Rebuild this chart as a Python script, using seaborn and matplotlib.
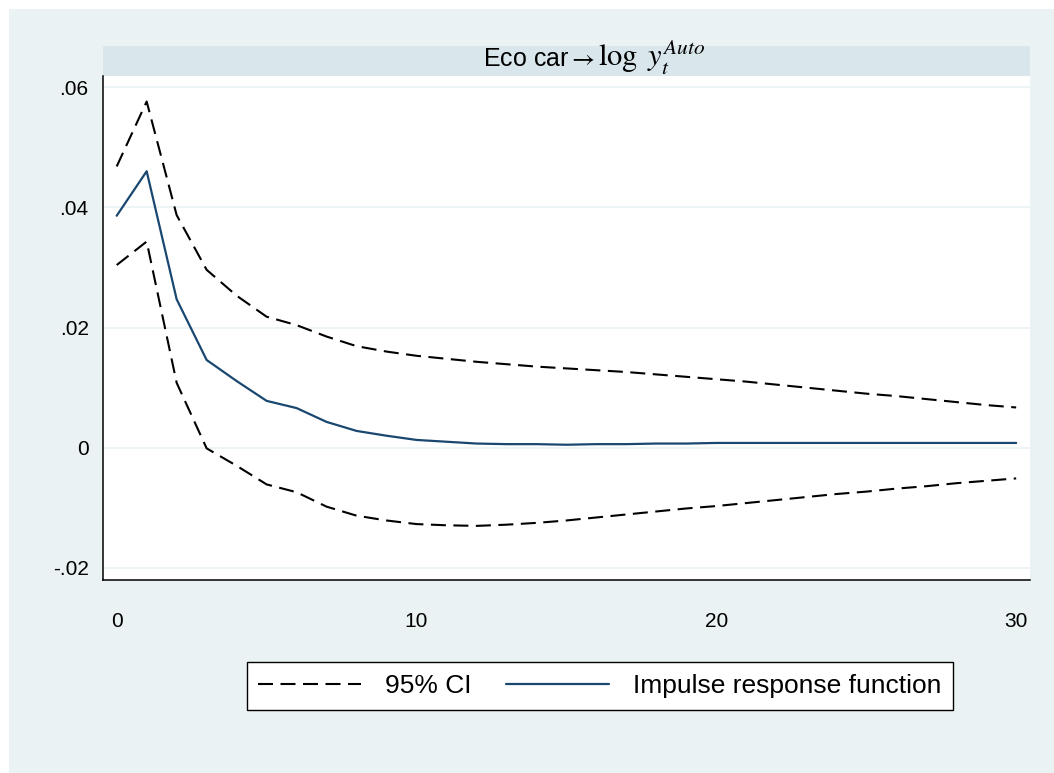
import numpy as np
import pandas as pd
import matplotlib
matplotlib.use("Agg")
import matplotlib.pyplot as plt
from matplotlib import font_manager
from matplotlib.patches import Rectangle
from matplotlib.lines import Line2D
import seaborn as sns

# veriler
steps = list(range(31))
irf = [0.0386, 0.0460, 0.0247, 0.0146, 0.0111, 0.0078, 0.0066, 0.0043, 0.0028, 0.0020,
       0.0013, 0.0010, 0.0007, 0.0006, 0.0006, 0.0005, 0.0006, 0.0006, 0.0007, 0.0007,
       0.0008, 0.0008, 0.0008, 0.0008, 0.0008, 0.0008, 0.0008, 0.0008, 0.0008, 0.0008, 0.0008]
upper = [0.0468, 0.0576, 0.0387, 0.0296, 0.0253, 0.0218, 0.0204, 0.0185, 0.0169, 0.0160,
         0.0153, 0.0148, 0.0143, 0.0139, 0.0135, 0.0132, 0.0129, 0.0126, 0.0122, 0.0118,
         0.0114, 0.0110, 0.0105, 0.0100, 0.0095, 0.0090, 0.0086, 0.0081, 0.0076, 0.0071, 0.0067]
lower = [0.0304, 0.0343, 0.0108, -0.0001, -0.0030, -0.0061, -0.0074, -0.0098, -0.0113, -0.0121,
         -0.0127, -0.0129, -0.0130, -0.0128, -0.0125, -0.0121, -0.0116, -0.0111, -0.0106, -0.0101,
         -0.0097, -0.0092, -0.0087, -0.0082, -0.0077, -0.0073, -0.0068, -0.0064, -0.0059, -0.0055, -0.0051]

yticks = [-0.02, 0.0, 0.02, 0.04, 0.06]
ytick_labels = ["-.02", "0", ".02", ".04", ".06"]
xticks = [0, 10, 20, 30]
legend_labels = ["95% CI", "Impulse response function"]

df = pd.DataFrame({"step": steps, "irf": irf, "upper": upper, "lower": lower})

bg = "#EAF2F3"
band = "#D9E6EB"
navy = "#1A476F"
dash = (7.2, 3.6)

sns.set_style("white")
names = {f.name for f in font_manager.fontManager.ttflist}
narrow = "Liberation Sans Narrow" if "Liberation Sans Narrow" in names else "Liberation Sans"
plt.rcParams["font.family"] = ["Liberation Sans", "DejaVu Sans"]
plt.rcParams["mathtext.fontset"] = "stix"
plt.rcParams["text.color"] = "black"
plt.rcParams["xtick.color"] = "black"
plt.rcParams["ytick.color"] = "black"

fig = plt.figure(figsize=(10.54, 7.73), dpi=100)
fig.patch.set_facecolor("white")
# grafik bolgesi arka plani
fig.patches.append(Rectangle((9 / 1054, 0), 1, 1 - 9 / 773, transform=fig.transFigure,
                             facecolor=bg, edgecolor="none", zorder=-2))
# baslik bandi
fig.patches.append(Rectangle((103.3 / 1054, 1 - 75.7 / 773), (1030 - 103.3) / 1054, 30 / 773,
                             transform=fig.transFigure, facecolor=band, edgecolor="none", zorder=-1))

ax = fig.add_axes([0.0980, 0.2497, 0.8792, 0.6520])
ax.set_zorder(2)
ax.set_facecolor("white")

sns.lineplot(data=df, x="step", y="upper", ax=ax, color="black", lw=1.5)
sns.lineplot(data=df, x="step", y="lower", ax=ax, color="black", lw=1.5)
for ln in ax.lines:
    ln.set_dashes(dash)
sns.lineplot(data=df, x="step", y="irf", ax=ax, color=navy, lw=1.6)

ax.set_xlim(-0.447, 30.46)
ax.set_ylim(-0.0220, 0.06185)
ax.set_yticks(yticks)
ax.set_yticklabels(ytick_labels)
ax.set_xticks(xticks)
ax.set_xlabel("")
ax.set_ylabel("")
for y in yticks:
    ax.axhline(y, color=bg, lw=1.2, zorder=0)

for side in ["top", "right"]:
    ax.spines[side].set_visible(False)
for side in ["left", "bottom"]:
    ax.spines[side].set_color("black")
    ax.spines[side].set_linewidth(1.1)

ax.tick_params(axis="y", direction="out", length=6, width=1, pad=4.5, labelsize=15, colors="black")
ax.tick_params(axis="x", direction="out", length=5, width=1, pad=18, labelsize=15, colors="black")
for lab in ax.get_xticklabels() + ax.get_yticklabels():
    lab.set_family([narrow, "DejaVu Sans"])

# baslik: duz yazi + matematik kismi
fig.text(595 / 1054, 1 - 66 / 773, r"Eco car$\rightarrow$", ha="right", va="baseline", fontsize=18,
         family=["Liberation Sans", "DejaVu Sans"])
fig.text(598 / 1054, 1 - 66.5 / 773, r"$\log\ y_t^{Auto}$", ha="left", va="baseline", fontsize=22)

handles = [Line2D([], [], color="black", lw=1.5, dashes=dash),
           Line2D([], [], color=navy, lw=1.6)]
leg = fig.legend(handles, legend_labels, loc="center", bbox_to_anchor=(0.569, 0.1125),
                 ncol=2, fontsize=19, frameon=True, fancybox=False, framealpha=1,
                 handlelength=3.9, handletextpad=0.9, columnspacing=1.3, borderpad=0.45)
leg.get_frame().set_edgecolor("black")
leg.get_frame().set_linewidth(1.0)
leg.get_frame().set_facecolor("white")

fig.savefig("out.png", dpi=100)
